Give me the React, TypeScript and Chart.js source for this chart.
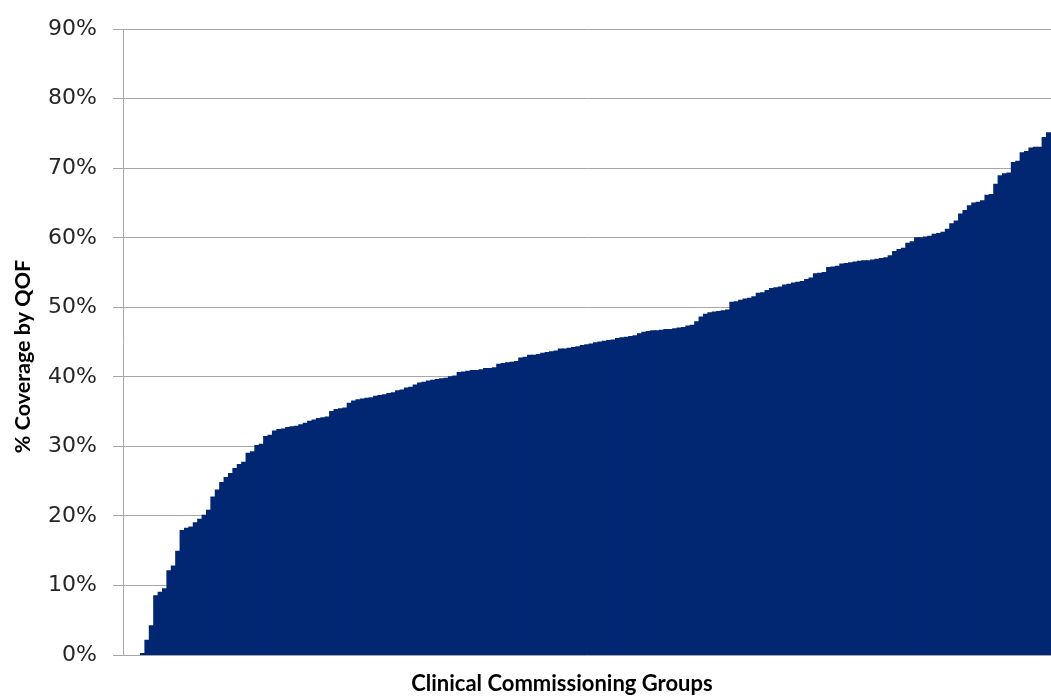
import React, { useEffect, useRef } from "react";
import { Chart, registerables } from "chart.js";

Chart.register(...registerables);

const categories: string[] = Array.from({ length: 211 }, (_, i) => `CCG ${i + 1}`);

const coverage: number[] = [
  0, 0, 0, 0, 0.2, 2.1, 4.2, 8.5, 9.0, 9.5,
  12.1, 12.8, 14.9, 17.9, 18.2, 18.4, 19.0, 19.5, 20.1, 20.8,
  22.7, 23.7, 24.8, 25.5, 26.1, 26.8, 27.4, 27.7, 29.0, 29.2,
  30.1, 30.3, 31.4, 31.6, 32.2, 32.4, 32.5, 32.7, 32.8, 32.9,
  33.1, 33.3, 33.6, 33.8, 34.0, 34.1, 34.2, 35.0, 35.3, 35.4,
  35.5, 36.2, 36.5, 36.7, 36.8, 36.9, 37.0, 37.2, 37.3, 37.4,
  37.6, 37.7, 38.0, 38.1, 38.4, 38.5, 38.8, 39.1, 39.2, 39.4,
  39.5, 39.6, 39.7, 39.8, 40.0, 40.1, 40.6, 40.7, 40.8, 40.9,
  40.9, 41.0, 41.2, 41.2, 41.3, 41.8, 41.9, 42.0, 42.1, 42.2,
  42.7, 42.8, 43.1, 43.1, 43.2, 43.4, 43.5, 43.6, 43.7, 44.0,
  44.0, 44.1, 44.2, 44.3, 44.5, 44.6, 44.7, 44.9, 45.0, 45.1,
  45.2, 45.3, 45.5, 45.6, 45.7, 45.8, 45.9, 46.2, 46.4, 46.5,
  46.6, 46.6, 46.7, 46.8, 46.8, 46.9, 47.0, 47.1, 47.3, 47.4,
  47.9, 48.6, 49.0, 49.2, 49.3, 49.4, 49.5, 49.6, 50.7, 50.8,
  51.0, 51.2, 51.3, 51.5, 52.0, 52.1, 52.4, 52.7, 52.8, 52.9,
  53.2, 53.3, 53.5, 53.6, 53.7, 54.0, 54.2, 54.8, 54.9, 55.0,
  55.7, 55.8, 55.9, 56.2, 56.3, 56.4, 56.5, 56.6, 56.7, 56.7,
  56.8, 56.9, 57.0, 57.1, 57.4, 58.0, 58.3, 58.5, 59.2, 59.4,
  60.0, 60.0, 60.1, 60.2, 60.5, 60.6, 60.8, 61.2, 62.0, 62.4,
  63.4, 63.9, 64.6, 65.0, 65.1, 65.3, 66.1, 66.2, 67.7, 68.9,
  69.2, 69.3, 70.8, 71.0, 72.2, 72.4, 72.9, 73.0, 73.0, 74.4,
  75.1,
];

const yTicks: number[] = [0, 10, 20, 30, 40, 50, 60, 70, 80, 90];
const xTitle = "Clinical Commissioning Groups";
const yTitle = "% Coverage by QOF";
const barColor = "#012672";

const titlePlugin = {
  id: "customTitles",
  afterDraw(chart: any) {
    const ctx = chart.ctx;
    const area = chart.chartArea;
    ctx.save();
    ctx.fillStyle = "#000000";
    ctx.textAlign = "center";
    ctx.textBaseline = "middle";
    ctx.font = "bold 22px Lato";
    ctx.fillText(xTitle, area.left + (area.right - area.left) * 0.473, area.bottom + 29);
    ctx.font = "bold 21.5px Lato";
    ctx.translate(23, area.top + (area.bottom - area.top) * 0.523);
    ctx.rotate(-Math.PI / 2);
    ctx.fillText(yTitle, 0, 0);
    ctx.restore();
  },
};

export default function App() {
  const canvasRef = useRef<HTMLCanvasElement | null>(null);

  useEffect(() => {
    if (!canvasRef.current) return;
    const chart = new Chart(canvasRef.current, {
      type: "bar",
      data: {
        labels: categories,
        datasets: [
          {
            data: coverage,
            backgroundColor: (c: any) => (c.raw === 0 ? "rgba(0,0,0,0)" : barColor),
            borderWidth: 0,
            inflateAmount: 0.6,
            categoryPercentage: 1,
            barPercentage: 1,
          } as any,
        ],
      },
      options: {
        animation: false,
        responsive: true,
        maintainAspectRatio: false,
        layout: { padding: { top: 28, right: 0, bottom: 42, left: 0 } },
        plugins: {
          legend: { display: false },
          tooltip: { enabled: false },
          title: { display: false },
        },
        scales: {
          x: { display: false },
          y: {
            min: 0,
            max: 90,
            afterFit: (scale: any) => {
              scale.width = 123;
            },
            afterBuildTicks: (scale: any) => {
              scale.ticks = yTicks.map((v) => ({ value: v }));
            },
            ticks: {
              padding: 16,
              color: "#262626",
              font: { family: "DejaVu Sans", size: 22 },
              callback: (v: any) => `${v}%`,
            },
            grid: {
              color: "#a6a6a6",
              lineWidth: 1,
              tickLength: 10,
              drawTicks: true,
            },
            border: { display: true, color: "#a6a6a6", width: 1 },
          },
        },
      },
      plugins: [titlePlugin],
    });
    return () => chart.destroy();
  }, []);

  return (
    <div style={{ position: "fixed", left: 0, top: 0, width: 1051, height: 697, background: "#ffffff" }}>
      <canvas ref={canvasRef} />
    </div>
  );
}
